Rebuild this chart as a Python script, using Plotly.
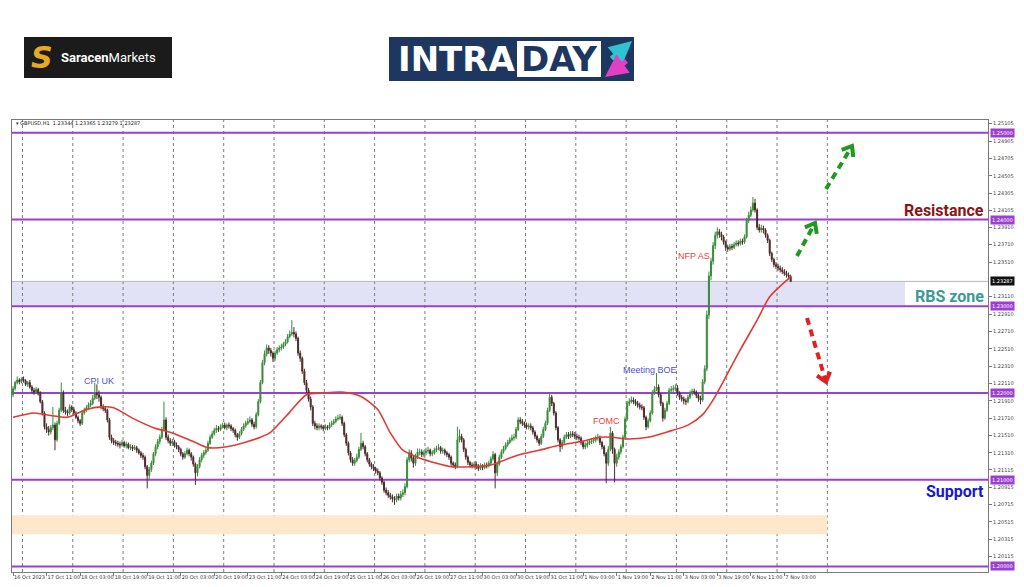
import math
import plotly.graph_objects as go

# ---------------- DATA (GBPUSD H1, bar 0 = 16 Oct 2023 19:00) ----------------
opens = [
    # 16 Oct
    1.2198, 1.2205, 1.2212, 1.2215, 1.2213,
    # 17 Oct
    1.2216, 1.2214, 1.2210, 1.2212, 1.2207, 1.2203, 1.2201, 1.2204, 1.2200, 1.2190, 1.2177, 1.2161,
    1.2158, 1.2155, 1.2160, 1.2163, 1.2146, 1.2165, 1.2180, 1.2200, 1.2180, 1.2178, 1.2177, 1.2184,
    # 18 Oct
    1.2181, 1.2177, 1.2172, 1.2168, 1.2165, 1.2177, 1.2180, 1.2183, 1.2186, 1.2188, 1.2194, 1.2200,
    1.2198, 1.2195, 1.2184, 1.2182, 1.2180, 1.2169, 1.2149, 1.2145, 1.2143, 1.2142, 1.2141, 1.2140,
    # 19 Oct
    1.2143, 1.2139, 1.2141, 1.2137, 1.2138, 1.2136, 1.2137, 1.2134, 1.2131, 1.2128, 1.2126, 1.2115,
    1.2105, 1.2112, 1.2119, 1.2130, 1.2138, 1.2144, 1.2149, 1.2158, 1.2169, 1.2149, 1.2145, 1.2142,
    # 20 Oct
    1.2144, 1.2140, 1.2138, 1.2135, 1.2130, 1.2126, 1.2130, 1.2134, 1.2130, 1.2126, 1.2118, 1.2108,
    1.2115, 1.2123, 1.2128, 1.2131, 1.2134, 1.2142, 1.2149, 1.2153, 1.2157, 1.2159, 1.2158, 1.2161,
    # 23 Oct
    1.2163, 1.2160, 1.2163, 1.2162, 1.2159, 1.2157, 1.2152, 1.2149, 1.2153, 1.2158, 1.2162, 1.2165,
    1.2167, 1.2169, 1.2164, 1.2161, 1.2175, 1.2190, 1.2212, 1.2235, 1.2245, 1.2252, 1.2249, 1.2246,
    # 24 Oct
    1.2240, 1.2246, 1.2250, 1.2252, 1.2253, 1.2256, 1.2259, 1.2265, 1.2268, 1.2270, 1.2268, 1.2263,
    1.2246, 1.2240, 1.2225, 1.2212, 1.2203, 1.2193, 1.2184, 1.2165, 1.2162, 1.2160, 1.2162, 1.2161,
    # 25 Oct
    1.2159, 1.2161, 1.2160, 1.2163, 1.2165, 1.2167, 1.2170, 1.2171, 1.2172, 1.2165, 1.2152, 1.2142,
    1.2131, 1.2123, 1.2119, 1.2122, 1.2126, 1.2135, 1.2142, 1.2138, 1.2130, 1.2123, 1.2118, 1.2115,
    # 26 Oct
    1.2113, 1.2110, 1.2108, 1.2102, 1.2097, 1.2088, 1.2085, 1.2082, 1.2080, 1.2078, 1.2077, 1.2081,
    1.2079, 1.2083, 1.2085, 1.2092, 1.2123, 1.2131, 1.2125, 1.2119, 1.2127, 1.2132, 1.2132, 1.2129,
    # 27 Oct
    1.2131, 1.2133, 1.2134, 1.2130, 1.2131, 1.2134, 1.2136, 1.2137, 1.2133, 1.2134, 1.2131, 1.2129,
    1.2126, 1.2119, 1.2117, 1.2115, 1.2146, 1.2150, 1.2146, 1.2135, 1.2126, 1.2120, 1.2117, 1.2116,
    # 30 Oct
    1.2118, 1.2115, 1.2113, 1.2116, 1.2114, 1.2117, 1.2116, 1.2119, 1.2124, 1.2129, 1.2108, 1.2118,
    1.2126, 1.2132, 1.2136, 1.2140, 1.2143, 1.2146, 1.2148, 1.2149, 1.2158, 1.2169, 1.2167, 1.2165,
    # 31 Oct
    1.2163, 1.2161, 1.2162, 1.2160, 1.2155, 1.2150, 1.2146, 1.2142, 1.2150, 1.2158, 1.2165, 1.2180,
    1.2195, 1.2188, 1.2177, 1.2160, 1.2146, 1.2138, 1.2143, 1.2149, 1.2152, 1.2150, 1.2153, 1.2152,
    # 1 Nov
    1.2150, 1.2149, 1.2148, 1.2143, 1.2138, 1.2140, 1.2142, 1.2144, 1.2145, 1.2146, 1.2148, 1.2149,
    1.2143, 1.2138, 1.2130, 1.2119, 1.2135, 1.2154, 1.2135, 1.2119, 1.2126, 1.2132, 1.2138, 1.2149,
    # 2 Nov
    1.2170, 1.2188, 1.2190, 1.2192, 1.2190, 1.2188, 1.2186, 1.2184, 1.2183, 1.2172, 1.2161, 1.2168,
    1.2177, 1.2200, 1.2204, 1.2207, 1.2198, 1.2188, 1.2171, 1.2180, 1.2188, 1.2203, 1.2204, 1.2205,
    # 3 Nov
    1.2206, 1.2200, 1.2195, 1.2193, 1.2191, 1.2190, 1.2195, 1.2200, 1.2202, 1.2201, 1.2197, 1.2194,
    1.2192, 1.2213, 1.2228, 1.2290, 1.2335, 1.2352, 1.2370, 1.2382, 1.2386, 1.2383, 1.2380, 1.2374,
    # 6 Nov
    1.2368, 1.2366, 1.2369, 1.2368, 1.2371, 1.2373, 1.2372, 1.2375, 1.2374, 1.2380, 1.2399, 1.2405,
    1.2411, 1.2419, 1.2411, 1.2391, 1.2388, 1.2390, 1.2388, 1.2382, 1.2376, 1.2361, 1.2354, 1.2348,
    # 7 Nov
    1.2346, 1.2344, 1.2342, 1.2340, 1.2338, 1.2336, 1.23344,
]

highs = [
    1.2208, 1.2214, 1.2219, 1.2217, 1.2218,
    1.2219, 1.2216, 1.2214, 1.2215, 1.2209, 1.2206, 1.2207, 1.2206, 1.2202, 1.2192, 1.2179, 1.2165,
    1.2162, 1.2163, 1.2184, 1.2166, 1.2168, 1.2183, 1.2212, 1.2203, 1.2184, 1.2181, 1.2187, 1.2186,
    1.2184, 1.2179, 1.2174, 1.2170, 1.2180, 1.2183, 1.2186, 1.2189, 1.2192, 1.2198, 1.2212, 1.2210,
    1.2203, 1.2197, 1.2187, 1.2185, 1.2182, 1.2171, 1.2152, 1.2148, 1.2146, 1.2145, 1.2144, 1.2146,
    1.2145, 1.2144, 1.2143, 1.2141, 1.2140, 1.2140, 1.2139, 1.2136, 1.2133, 1.2131, 1.2128, 1.2117,
    1.2115, 1.2122, 1.2132, 1.2141, 1.2147, 1.2152, 1.2161, 1.2190, 1.2172, 1.2152, 1.2148, 1.2147,
    1.2146, 1.2143, 1.2140, 1.2137, 1.2132, 1.2133, 1.2137, 1.2136, 1.2132, 1.2128, 1.2120, 1.2118,
    1.2126, 1.2131, 1.2134, 1.2137, 1.2145, 1.2152, 1.2156, 1.2160, 1.2163, 1.2162, 1.2164, 1.2166,
    1.2166, 1.2165, 1.2166, 1.2164, 1.2161, 1.2159, 1.2154, 1.2156, 1.2161, 1.2165, 1.2168, 1.2171,
    1.2173, 1.2171, 1.2167, 1.2178, 1.2193, 1.2215, 1.2238, 1.2249, 1.2256, 1.2255, 1.2252, 1.2248,
    1.2249, 1.2253, 1.2255, 1.2257, 1.2259, 1.2262, 1.2268, 1.2272, 1.2284, 1.2276, 1.2271, 1.2265,
    1.2249, 1.2242, 1.2228, 1.2215, 1.2206, 1.2196, 1.2186, 1.2168, 1.2165, 1.2165, 1.2164, 1.2163,
    1.2164, 1.2163, 1.2166, 1.2168, 1.2170, 1.2173, 1.2175, 1.2176, 1.2174, 1.2167, 1.2154, 1.2144,
    1.2133, 1.2126, 1.2125, 1.2130, 1.2138, 1.2154, 1.2145, 1.2140, 1.2132, 1.2125, 1.2120, 1.2118,
    1.2115, 1.2113, 1.2110, 1.2104, 1.2099, 1.2091, 1.2088, 1.2085, 1.2083, 1.2081, 1.2084, 1.2084,
    1.2087, 1.2089, 1.2096, 1.2126, 1.2135, 1.2134, 1.2128, 1.2130, 1.2136, 1.2136, 1.2135, 1.2134,
    1.2137, 1.2138, 1.2136, 1.2134, 1.2137, 1.2139, 1.2141, 1.2139, 1.2137, 1.2136, 1.2133, 1.2131,
    1.2128, 1.2121, 1.2120, 1.2161, 1.2158, 1.2153, 1.2148, 1.2137, 1.2128, 1.2122, 1.2120, 1.2121,
    1.2121, 1.2118, 1.2119, 1.2118, 1.2120, 1.2120, 1.2122, 1.2127, 1.2133, 1.2131, 1.2121, 1.2129,
    1.2135, 1.2139, 1.2143, 1.2146, 1.2149, 1.2152, 1.2153, 1.2161, 1.2172, 1.2172, 1.2170, 1.2167,
    1.2166, 1.2165, 1.2165, 1.2162, 1.2157, 1.2152, 1.2148, 1.2153, 1.2161, 1.2168, 1.2183, 1.2200,
    1.2198, 1.2190, 1.2179, 1.2162, 1.2148, 1.2146, 1.2152, 1.2155, 1.2155, 1.2156, 1.2156, 1.2155,
    1.2153, 1.2152, 1.2150, 1.2145, 1.2143, 1.2145, 1.2147, 1.2148, 1.2149, 1.2151, 1.2153, 1.2151,
    1.2145, 1.2140, 1.2132, 1.2139, 1.2161, 1.2156, 1.2137, 1.2130, 1.2135, 1.2141, 1.2152, 1.2173,
    1.2191, 1.2194, 1.2196, 1.2195, 1.2193, 1.2191, 1.2189, 1.2187, 1.2185, 1.2174, 1.2171, 1.2180,
    1.2203, 1.2208, 1.2223, 1.2210, 1.2200, 1.2190, 1.2183, 1.2191, 1.2206, 1.2208, 1.2209, 1.2210,
    1.2209, 1.2202, 1.2198, 1.2196, 1.2194, 1.2198, 1.2203, 1.2205, 1.2205, 1.2203, 1.2199, 1.2197,
    1.2216, 1.2232, 1.2295, 1.2340, 1.2356, 1.2374, 1.2386, 1.2391, 1.2389, 1.2386, 1.2382, 1.2376,
    1.2371, 1.2372, 1.2372, 1.2374, 1.2376, 1.2376, 1.2378, 1.2378, 1.2383, 1.2402, 1.2409, 1.2415,
    1.2426, 1.2424, 1.2413, 1.2395, 1.2394, 1.2393, 1.2390, 1.2384, 1.2378, 1.2363, 1.2356, 1.2351,
    1.2349, 1.2347, 1.2345, 1.2343, 1.2341, 1.2339, 1.23365,
]

lows = [
    1.2195, 1.2203, 1.2210, 1.2210, 1.2211,
    1.2212, 1.2208, 1.2207, 1.2205, 1.2200, 1.2198, 1.2199, 1.2197, 1.2188, 1.2174, 1.2158, 1.2154,
    1.2151, 1.2152, 1.2157, 1.2134, 1.2144, 1.2163, 1.2178, 1.2177, 1.2175, 1.2173, 1.2175, 1.2178,
    1.2175, 1.2170, 1.2165, 1.2162, 1.2163, 1.2175, 1.2178, 1.2181, 1.2184, 1.2186, 1.2192, 1.2193,
    1.2190, 1.2181, 1.2179, 1.2177, 1.2166, 1.2146, 1.2142, 1.2140, 1.2139, 1.2138, 1.2136, 1.2138,
    1.2137, 1.2136, 1.2135, 1.2134, 1.2133, 1.2134, 1.2131, 1.2129, 1.2125, 1.2123, 1.2112, 1.2090,
    1.2100, 1.2109, 1.2117, 1.2127, 1.2135, 1.2141, 1.2147, 1.2156, 1.2146, 1.2142, 1.2139, 1.2139,
    1.2137, 1.2135, 1.2132, 1.2127, 1.2123, 1.2124, 1.2128, 1.2127, 1.2122, 1.2115, 1.2094, 1.2104,
    1.2113, 1.2120, 1.2125, 1.2129, 1.2132, 1.2140, 1.2147, 1.2151, 1.2154, 1.2155, 1.2156, 1.2159,
    1.2158, 1.2157, 1.2159, 1.2156, 1.2154, 1.2149, 1.2145, 1.2147, 1.2151, 1.2156, 1.2160, 1.2163,
    1.2165, 1.2161, 1.2158, 1.2159, 1.2173, 1.2188, 1.2210, 1.2232, 1.2242, 1.2245, 1.2242, 1.2236,
    1.2237, 1.2244, 1.2247, 1.2249, 1.2251, 1.2254, 1.2257, 1.2263, 1.2266, 1.2264, 1.2260, 1.2243,
    1.2236, 1.2222, 1.2209, 1.2200, 1.2190, 1.2180, 1.2162, 1.2158, 1.2157, 1.2157, 1.2158, 1.2156,
    1.2157, 1.2157, 1.2158, 1.2161, 1.2163, 1.2165, 1.2168, 1.2169, 1.2162, 1.2149, 1.2139, 1.2128,
    1.2120, 1.2116, 1.2116, 1.2120, 1.2124, 1.2133, 1.2135, 1.2127, 1.2120, 1.2115, 1.2112, 1.2110,
    1.2107, 1.2105, 1.2099, 1.2094, 1.2085, 1.2082, 1.2079, 1.2077, 1.2074, 1.2071, 1.2074, 1.2076,
    1.2076, 1.2080, 1.2082, 1.2090, 1.2120, 1.2121, 1.2114, 1.2116, 1.2124, 1.2128, 1.2126, 1.2126,
    1.2128, 1.2130, 1.2127, 1.2127, 1.2129, 1.2132, 1.2134, 1.2130, 1.2130, 1.2128, 1.2126, 1.2123,
    1.2116, 1.2114, 1.2112, 1.2113, 1.2143, 1.2143, 1.2132, 1.2123, 1.2117, 1.2114, 1.2113, 1.2113,
    1.2112, 1.2110, 1.2111, 1.2111, 1.2112, 1.2113, 1.2114, 1.2117, 1.2122, 1.2090, 1.2104, 1.2116,
    1.2124, 1.2130, 1.2134, 1.2138, 1.2141, 1.2144, 1.2145, 1.2147, 1.2156, 1.2164, 1.2162, 1.2160,
    1.2158, 1.2158, 1.2157, 1.2152, 1.2147, 1.2143, 1.2139, 1.2140, 1.2148, 1.2156, 1.2163, 1.2178,
    1.2185, 1.2174, 1.2157, 1.2143, 1.2132, 1.2135, 1.2141, 1.2147, 1.2147, 1.2148, 1.2149, 1.2147,
    1.2146, 1.2145, 1.2140, 1.2135, 1.2135, 1.2137, 1.2140, 1.2141, 1.2142, 1.2143, 1.2145, 1.2140,
    1.2135, 1.2127, 1.2096, 1.2116, 1.2133, 1.2130, 1.2097, 1.2115, 1.2123, 1.2129, 1.2136, 1.2147,
    1.2168, 1.2185, 1.2188, 1.2187, 1.2185, 1.2183, 1.2181, 1.2180, 1.2169, 1.2157, 1.2159, 1.2166,
    1.2175, 1.2198, 1.2202, 1.2195, 1.2185, 1.2167, 1.2169, 1.2178, 1.2186, 1.2200, 1.2201, 1.2202,
    1.2197, 1.2192, 1.2190, 1.2187, 1.2186, 1.2188, 1.2193, 1.2197, 1.2198, 1.2194, 1.2190, 1.2187,
    1.2190, 1.2210, 1.2225, 1.2285, 1.2330, 1.2348, 1.2366, 1.2378, 1.2379, 1.2376, 1.2371, 1.2364,
    1.2363, 1.2364, 1.2365, 1.2366, 1.2369, 1.2369, 1.2370, 1.2371, 1.2372, 1.2378, 1.2396, 1.2403,
    1.2409, 1.2408, 1.2388, 1.2385, 1.2385, 1.2384, 1.2379, 1.2373, 1.2358, 1.2351, 1.2345, 1.2343,
    1.2341, 1.2339, 1.2337, 1.2335, 1.2333, 1.2331, 1.23279,
]

closes = [
    1.2205, 1.2212, 1.2215, 1.2213, 1.2216,
    1.2214, 1.2210, 1.2212, 1.2207, 1.2203, 1.2201, 1.2204, 1.2200, 1.2190, 1.2177, 1.2161, 1.2158,
    1.2155, 1.2160, 1.2163, 1.2146, 1.2165, 1.2180, 1.2200, 1.2180, 1.2178, 1.2177, 1.2184, 1.2181,
    1.2177, 1.2172, 1.2168, 1.2165, 1.2177, 1.2180, 1.2183, 1.2186, 1.2188, 1.2194, 1.2200, 1.2198,
    1.2195, 1.2184, 1.2182, 1.2180, 1.2169, 1.2149, 1.2145, 1.2143, 1.2142, 1.2141, 1.2140, 1.2143,
    1.2139, 1.2141, 1.2137, 1.2138, 1.2136, 1.2137, 1.2134, 1.2131, 1.2128, 1.2126, 1.2115, 1.2105,
    1.2112, 1.2119, 1.2130, 1.2138, 1.2144, 1.2149, 1.2158, 1.2169, 1.2149, 1.2145, 1.2142, 1.2144,
    1.2140, 1.2138, 1.2135, 1.2130, 1.2126, 1.2130, 1.2134, 1.2130, 1.2126, 1.2118, 1.2108, 1.2115,
    1.2123, 1.2128, 1.2131, 1.2134, 1.2142, 1.2149, 1.2153, 1.2157, 1.2159, 1.2158, 1.2161, 1.2163,
    1.2160, 1.2163, 1.2162, 1.2159, 1.2157, 1.2152, 1.2149, 1.2153, 1.2158, 1.2162, 1.2165, 1.2167,
    1.2169, 1.2164, 1.2161, 1.2175, 1.2190, 1.2212, 1.2235, 1.2245, 1.2252, 1.2249, 1.2246, 1.2240,
    1.2246, 1.2250, 1.2252, 1.2253, 1.2256, 1.2259, 1.2265, 1.2268, 1.2270, 1.2268, 1.2263, 1.2246,
    1.2240, 1.2225, 1.2212, 1.2203, 1.2193, 1.2184, 1.2165, 1.2162, 1.2160, 1.2162, 1.2161, 1.2159,
    1.2161, 1.2160, 1.2163, 1.2165, 1.2167, 1.2170, 1.2171, 1.2172, 1.2165, 1.2152, 1.2142, 1.2131,
    1.2123, 1.2119, 1.2122, 1.2126, 1.2135, 1.2142, 1.2138, 1.2130, 1.2123, 1.2118, 1.2115, 1.2113,
    1.2110, 1.2108, 1.2102, 1.2097, 1.2088, 1.2085, 1.2082, 1.2080, 1.2078, 1.2077, 1.2081, 1.2079,
    1.2083, 1.2085, 1.2092, 1.2123, 1.2131, 1.2125, 1.2119, 1.2127, 1.2132, 1.2132, 1.2129, 1.2131,
    1.2133, 1.2134, 1.2130, 1.2131, 1.2134, 1.2136, 1.2137, 1.2133, 1.2134, 1.2131, 1.2129, 1.2126,
    1.2119, 1.2117, 1.2115, 1.2146, 1.2150, 1.2146, 1.2135, 1.2126, 1.2120, 1.2117, 1.2116, 1.2118,
    1.2115, 1.2113, 1.2116, 1.2114, 1.2117, 1.2116, 1.2119, 1.2124, 1.2129, 1.2108, 1.2118, 1.2126,
    1.2132, 1.2136, 1.2140, 1.2143, 1.2146, 1.2148, 1.2149, 1.2158, 1.2169, 1.2167, 1.2165, 1.2163,
    1.2161, 1.2162, 1.2160, 1.2155, 1.2150, 1.2146, 1.2142, 1.2150, 1.2158, 1.2165, 1.2180, 1.2195,
    1.2188, 1.2177, 1.2160, 1.2146, 1.2138, 1.2143, 1.2149, 1.2152, 1.2150, 1.2153, 1.2152, 1.2150,
    1.2149, 1.2148, 1.2143, 1.2138, 1.2140, 1.2142, 1.2144, 1.2145, 1.2146, 1.2148, 1.2149, 1.2143,
    1.2138, 1.2130, 1.2119, 1.2135, 1.2154, 1.2135, 1.2119, 1.2126, 1.2132, 1.2138, 1.2149, 1.2170,
    1.2188, 1.2190, 1.2192, 1.2190, 1.2188, 1.2186, 1.2184, 1.2183, 1.2172, 1.2161, 1.2168, 1.2177,
    1.2200, 1.2204, 1.2207, 1.2198, 1.2188, 1.2171, 1.2180, 1.2188, 1.2203, 1.2204, 1.2205, 1.2206,
    1.2200, 1.2195, 1.2193, 1.2191, 1.2190, 1.2195, 1.2200, 1.2202, 1.2201, 1.2197, 1.2194, 1.2192,
    1.2213, 1.2228, 1.2290, 1.2335, 1.2352, 1.2370, 1.2382, 1.2386, 1.2383, 1.2380, 1.2374, 1.2368,
    1.2366, 1.2369, 1.2368, 1.2371, 1.2373, 1.2372, 1.2375, 1.2374, 1.2380, 1.2399, 1.2405, 1.2411,
    1.2419, 1.2411, 1.2391, 1.2388, 1.2390, 1.2388, 1.2382, 1.2376, 1.2361, 1.2354, 1.2348, 1.2346,
    1.2344, 1.2342, 1.2340, 1.2338, 1.2336, 1.23344, 1.23287,
]

# moving average (red line), read at selected bars
ma_bar = [0, 10, 18, 26, 35, 42, 48, 57, 67, 76, 86, 93, 102, 112, 118, 123, 132, 140, 148, 157,
          166, 174, 180, 186, 193, 202, 209, 218, 228, 237, 242, 251, 261, 271, 280, 286, 293, 303,
          312, 322, 329, 334, 341, 347, 355, 361, 371]
ma_values = [1.2172, 1.2177, 1.2174, 1.2172, 1.2181, 1.2184, 1.2183, 1.2171, 1.2160, 1.2154,
             1.2144, 1.2137, 1.2138, 1.2144, 1.2149, 1.2155, 1.2178, 1.2198, 1.2200, 1.2201,
             1.2196, 1.2181, 1.2154, 1.2134, 1.2126, 1.2119, 1.2115, 1.2115, 1.2117, 1.2125,
             1.2129, 1.2134, 1.2140, 1.2144, 1.2149, 1.2149, 1.2147, 1.2149, 1.2155, 1.2163,
             1.2175, 1.2192, 1.2223, 1.2250, 1.2284, 1.2311, 1.2334]

time_labels = ["16 Oct 2023", "17 Oct 11:00", "18 Oct 03:00", "18 Oct 19:00", "19 Oct 11:00",
               "20 Oct 03:00", "20 Oct 19:00", "23 Oct 11:00", "24 Oct 03:00", "24 Oct 19:00",
               "25 Oct 11:00", "26 Oct 03:00", "26 Oct 19:00", "27 Oct 11:00", "30 Oct 03:00",
               "30 Oct 19:00", "31 Oct 11:00", "1 Nov 03:00", "1 Nov 19:00", "2 Nov 11:00",
               "3 Nov 03:00", "3 Nov 19:00", "6 Nov 11:00", "7 Nov 03:00"]
BARS_PER_LABEL = 16
day_starts = ["17 Oct", "18 Oct", "19 Oct", "20 Oct", "23 Oct", "24 Oct", "25 Oct", "26 Oct",
              "27 Oct", "30 Oct", "31 Oct", "1 Nov", "2 Nov", "3 Nov", "6 Nov", "7 Nov", "8 Nov"]
FIRST_DAY_BAR = 5   # 17 Oct 00:00 is bar 5
price_ticks = [1.25105, 1.24905, 1.24705, 1.24505, 1.24305, 1.24105, 1.23910, 1.23710, 1.23510,
               1.23110, 1.22910, 1.22710, 1.22510, 1.22310, 1.22110, 1.21910, 1.21710, 1.21510,
               1.21310, 1.21115, 1.20915, 1.20715, 1.20515, 1.20315, 1.20115, 1.19915]
levels = [1.25, 1.24, 1.23, 1.22, 1.21, 1.20]
bid_price = 1.23287
rbs_zone = [1.2300, 1.23287]
support_zone = [1.2037, 1.2059]
events = [("CPI UK", 41, 1.2214, "#4f4fd6"), ("Meeting BOE", 304, 1.2227, "#4f4fd6"),
          ("FOMC", 283, 1.2168, "#e5443c"), ("NFP AS", 325, 1.2358, "#e5443c")]
zone_names = [("Resistance", 1.2411, "#8c1414"), ("RBS zone", 1.2311, "#3c9a96"),
              ("Support", 1.2087, "#1717d2")]

assert len(opens) == len(highs) == len(lows) == len(closes)

# ---------------- FIGURE ----------------
# The page body has an 8px default margin: the figure is sized to fit the 1024x587 window.
OFF = 8
W, H = 1024 - OFF, 587 - OFF
PL, PR, PT, PB = 12, 988, 120, 572   # plot area in window pixels


def px(x):
    return (x - PL) / (PR - PL)


def py(y):
    return (PB - y) / (PB - PT)


n = len(closes)
bars = list(range(n))

fig = go.Figure()
fig.add_trace(go.Candlestick(
    x=bars, open=opens, high=highs, low=lows, close=closes,
    increasing=dict(line=dict(color="#3a8c3a", width=1), fillcolor="#3a8c3a"),
    decreasing=dict(line=dict(color="#4d2b2b", width=1), fillcolor="#4d2b2b"),
    whiskerwidth=0, hoverinfo="skip", showlegend=False))
fig.add_trace(go.Scatter(
    x=ma_bar, y=ma_values, mode="lines",
    line=dict(color="#e23a33", width=1.6, shape="spline", smoothing=0.7),
    hoverinfo="skip", showlegend=False))

shapes = []
sep_pos = [FIRST_DAY_BAR - 0.5 + 24 * d for d in range(len(day_starts))]
shapes.append(dict(type="rect", xref="paper", yref="y", x0=0, x1=px(905),
                   y0=rbs_zone[0], y1=rbs_zone[1], fillcolor="#e2e2f6", line_width=0, layer="below"))
shapes.append(dict(type="rect", xref="x", yref="y", x0=-0.5, x1=sep_pos[-1],
                   y0=support_zone[0], y1=support_zone[1], fillcolor="#fde8cb", line_width=0, layer="below"))
for s in sep_pos:
    shapes.append(dict(type="line", xref="x", yref="paper", x0=s, x1=s, y0=0, y1=1,
                       line=dict(color="#7d7d7d", width=1, dash="dot"), layer="below"))
shapes.append(dict(type="line", xref="paper", yref="y", x0=0, x1=1, y0=bid_price, y1=bid_price,
                   line=dict(color="#b5b5b5", width=1), layer="below"))
for lv in levels:
    shapes.append(dict(type="line", xref="paper", yref="y", x0=0, x1=1, y0=lv, y1=lv,
                       line=dict(color="#9b3fd0", width=2), layer="below"))


def dashed_arrow(x0, y0, x1, y1, color):
    shapes.append(dict(type="line", xref="paper", yref="paper", x0=px(x0), y0=py(y0),
                       x1=px(x1), y1=py(y1), line=dict(color=color, width=4, dash="7px,5px")))
    dx, dy = x1 - x0, y1 - y0
    ln = math.hypot(dx, dy)
    vx, vy = -dx / ln, -dy / ln
    pts = []
    for sgn in (1, -1):
        a = math.radians(38) * sgn
        rx = vx * math.cos(a) - vy * math.sin(a)
        ry = vx * math.sin(a) + vy * math.cos(a)
        pts.append((x1 + 11 * rx, y1 + 11 * ry))
    path = (f"M {px(pts[0][0])},{py(pts[0][1])} L {px(x1)},{py(y1)} "
            f"L {px(pts[1][0])},{py(pts[1][1])}")
    shapes.append(dict(type="path", xref="paper", yref="paper", path=path,
                       line=dict(color=color, width=4)))


dashed_arrow(797, 256, 815, 223, "#1e9a1e")
dashed_arrow(826, 189, 852, 146, "#1e9a1e")
dashed_arrow(807, 318, 826, 382, "#e02121")

# logos
shapes.append(dict(type="rect", xref="paper", yref="paper", x0=px(24), x1=px(172), y0=py(78), y1=py(37),
                   fillcolor="#1b1b1b", line_width=0))
shapes.append(dict(type="rect", xref="paper", yref="paper", x0=px(389), x1=px(634), y0=py(81), y1=py(37),
                   fillcolor="#1d3760", line_width=0))
shapes.append(dict(type="rect", xref="paper", yref="paper", x0=px(517), x1=px(601), y0=py(77), y1=py(41),
                   fillcolor="#ffffff", line_width=0))

ann = []
for lv in levels:
    ann.append(dict(xref="paper", yref="y", x=1, y=lv, xanchor="left", xshift=2, yanchor="middle",
                    text=f"{lv:.5f}", showarrow=False, bgcolor="#9b3fd0", borderpad=1,
                    font=dict(size=5, color="white", family="DejaVu Sans")))
ann.append(dict(xref="paper", yref="y", x=1, y=bid_price, xanchor="left", xshift=2, yanchor="middle",
                text=f"{bid_price:.5f}", showarrow=False, bgcolor="#111111", borderpad=1,
                font=dict(size=5, color="white", family="DejaVu Sans")))
for name, yv, col in zone_names:
    ann.append(dict(xref="paper", yref="y", x=px(986), y=yv, xanchor="right", yanchor="middle",
                    text=f"<b>{name}</b>", showarrow=False,
                    font=dict(size=16, color=col, family="Roboto")))
for name, bar, yv, col in events:
    ann.append(dict(xref="x", yref="y", x=bar, y=yv, xanchor="center", yanchor="middle",
                    text=name, showarrow=False, font=dict(size=9, color=col, family="Liberation Sans")))
ann.append(dict(xref="paper", yref="paper", x=px(14), y=py(123), xanchor="left", yanchor="middle",
                text="▾ GBPUSD,H1  1.23344 1.23365 1.23279 1.23287", showarrow=False,
                font=dict(size=5, color="#222", family="DejaVu Sans")))
# Saracen Markets logo
ann.append(dict(xref="paper", yref="paper", x=px(42), y=py(57), xanchor="center", yanchor="middle",
                text="<b><i>S</i></b>", showarrow=False,
                font=dict(size=30, color="#e8a823", family="DejaVu Sans")))
ann.append(dict(xref="paper", yref="paper", x=px(59), y=py(57), xanchor="left", yanchor="middle",
                text="<b>Saracen</b>Markets", showarrow=False,
                font=dict(size=13, color="white", family="Roboto")))
# INTRADAY logo
ann.append(dict(xref="paper", yref="paper", x=px(456), y=py(59), xanchor="center", yanchor="middle",
                text="<b>INTRA</b>", showarrow=False,
                font=dict(size=34, color="white", family="DejaVu Sans")))
ann.append(dict(xref="paper", yref="paper", x=px(559), y=py(59), xanchor="center", yanchor="middle",
                text="<b>DAY</b>", showarrow=False,
                font=dict(size=34, color="#1d3760", family="DejaVu Sans")))
ann.append(dict(xref="paper", yref="paper", x=px(632), y=py(41), showarrow=True, ax=-22, ay=19,
                arrowhead=2, arrowsize=0.9, arrowwidth=5, arrowcolor="#2ec3cf", text=""))
ann.append(dict(xref="paper", yref="paper", x=px(605), y=py(77), showarrow=True, ax=23, ay=-17,
                arrowhead=2, arrowsize=0.9, arrowwidth=5, arrowcolor="#e23fc4", text=""))

fig.update_layout(
    width=W, height=H, autosize=False,
    margin=dict(l=PL - OFF, r=(1024 - OFF) - (PR - OFF), t=PT - OFF, b=(587 - OFF) - (PB - OFF), pad=0),
    paper_bgcolor="white", plot_bgcolor="white",
    shapes=shapes, annotations=ann, showlegend=False,
    xaxis=dict(range=[-0.5, 465.15], tickmode="array",
               tickvals=[BARS_PER_LABEL * k for k in range(len(time_labels))], ticktext=time_labels,
               ticklabelposition="outside right", tickangle=0, ticks="outside", ticklen=3,
               tickcolor="#777", tickfont=dict(size=5, color="#333", family="DejaVu Sans"),
               showgrid=False, zeroline=False, showline=True, mirror=True, linecolor="#7a7a7a",
               rangeslider=dict(visible=False), automargin=False, fixedrange=True),
    yaxis=dict(range=[1.19936, 1.25148], side="right", tickmode="array", tickvals=price_ticks,
               ticktext=[f"{v:.5f}" for v in price_ticks], ticks="outside", ticklen=3,
               tickcolor="#777", tickfont=dict(size=5, color="#444", family="DejaVu Sans"),
               showgrid=False, zeroline=False, showline=True, mirror=True, linecolor="#7a7a7a",
               automargin=False, fixedrange=True),
)

fig.write_html("out.html", config={"displayModeBar": False})
